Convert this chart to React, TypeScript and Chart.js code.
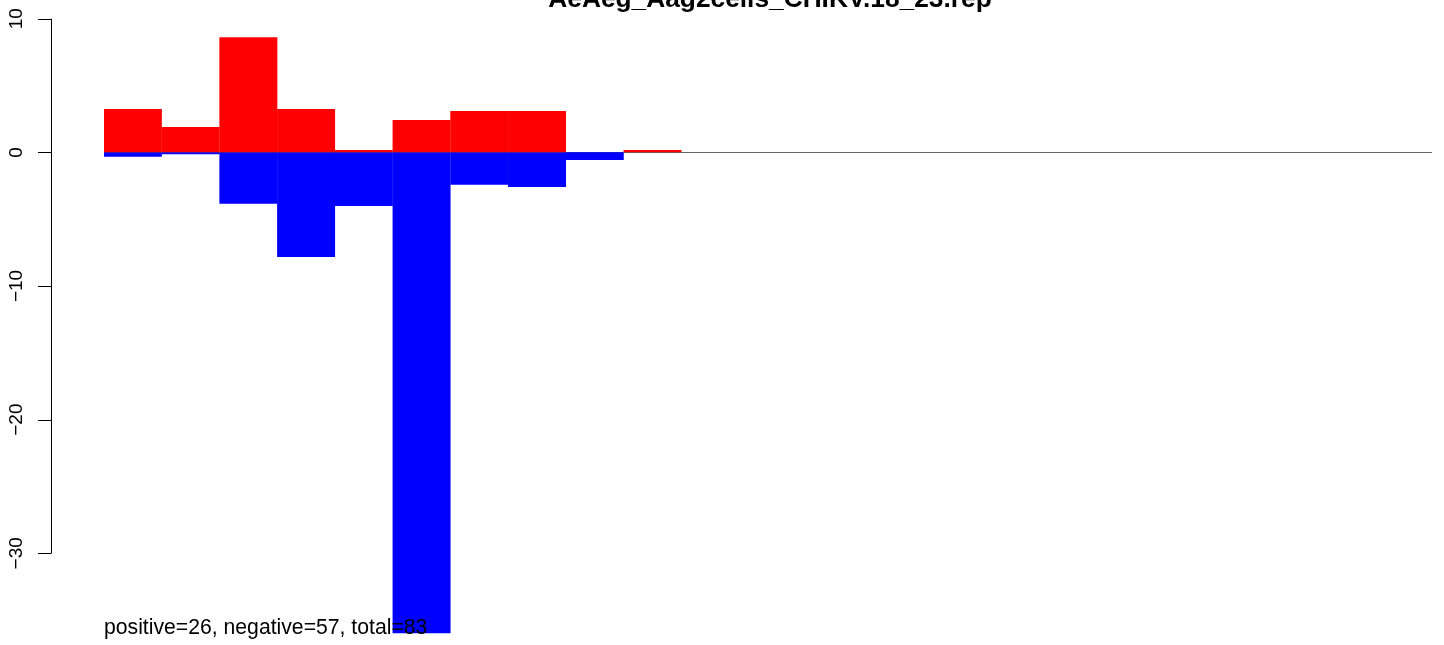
import React, { useEffect, useRef } from "react";
import { Chart, registerables } from "chart.js";

Chart.register(...registerables);

const titleText = "AeAeg_Aag2cells_CHIKV.18_23.rep";
const footerText = "positive=26, negative=57, total=83";

const categories = [
  "1", "2", "3", "4", "5", "6", "7", "8", "9", "10", "11", "12",
  "13", "14", "15", "16", "17", "18", "19", "20", "21", "22", "23",
];
const positiveValues = [
  3.24, 1.89, 8.62, 3.24, 0.17, 2.42, 3.09, 3.09, 0, 0.17, 0, 0,
  0, 0, 0, 0, 0, 0, 0, 0, 0, 0, 0,
];
const negativeValues = [
  -0.33, -0.15, -3.84, -7.83, -4.02, -36, -2.42, -2.6, -0.58, 0, 0, 0,
  0, 0, 0, 0, 0, 0, 0, 0, 0, 0, 0,
];
const yTickValues = [10, 0, -10, -20, -30];
const yTickLabels = ["10", "0", "\u221210", "\u221220", "\u221230"];

const FONT = '"Liberation Sans", Arial, Helvetica, sans-serif';

const rStylePlugin = {
  id: "rStyle",
  beforeDatasetsDraw(chart: any) {
    const { ctx } = chart;
    const x = chart.scales.x;
    const y = chart.scales.y;
    const y0 = y.getPixelForValue(0);
    ctx.save();
    ctx.strokeStyle = "#666666";
    ctx.lineWidth = 1;
    ctx.beginPath();
    ctx.moveTo(x.left, Math.round(y0) + 0.5);
    ctx.lineTo(x.right, Math.round(y0) + 0.5);
    ctx.stroke();
    ctx.restore();
  },
  afterDatasetsDraw(chart: any) {
    const { ctx } = chart;
    const x = chart.scales.x;
    const y = chart.scales.y;
    const n = categories.length;
    // R-style axis position: 4% extension of the bar range to the left
    const axisX = Math.round(x.getPixelForValue(-0.5 - 0.04 * n)) + 0.5;
    ctx.save();
    ctx.strokeStyle = "#000000";
    ctx.lineWidth = 1;
    ctx.beginPath();
    const topY = y.getPixelForValue(yTickValues[0]);
    const botY = y.getPixelForValue(yTickValues[yTickValues.length - 1]);
    ctx.moveTo(axisX, topY);
    ctx.lineTo(axisX, botY);
    yTickValues.forEach((v) => {
      const py = Math.round(y.getPixelForValue(v)) + 0.5;
      ctx.moveTo(axisX, py);
      ctx.lineTo(axisX - 13.5, py);
    });
    ctx.stroke();

    ctx.fillStyle = "#000000";
    ctx.font = `19px ${FONT}`;
    ctx.textAlign = "center";
    ctx.textBaseline = "alphabetic";
    yTickValues.forEach((v, i) => {
      const py = y.getPixelForValue(v);
      ctx.save();
      ctx.translate(axisX - 29.5, py);
      ctx.rotate(-Math.PI / 2);
      ctx.fillText(yTickLabels[i], 0, 0);
      ctx.restore();
    });

    // title (clipped at top like reference)
    ctx.font = `bold 26.3px ${FONT}`;
    ctx.textAlign = "center";
    ctx.textBaseline = "alphabetic";
    ctx.fillText(titleText, (x.left + x.right) / 2 + 2, 6.5);

    // footer text
    ctx.font = `21.2px ${FONT}`;
    ctx.textAlign = "left";
    ctx.fillText(footerText, x.left, y.bottom);
    ctx.restore();
  },
};

export default function App() {
  const canvasRef = useRef<HTMLCanvasElement | null>(null);

  useEffect(() => {
    if (!canvasRef.current) return;
    const chart = new Chart(canvasRef.current, {
      type: "bar",
      data: {
        labels: categories,
        datasets: [
          {
            label: "positive",
            data: positiveValues,
            backgroundColor: "#ff0000",
            borderWidth: 0,
            barPercentage: 1.004,
            categoryPercentage: 1,
          },
          {
            label: "negative",
            data: negativeValues,
            backgroundColor: "#0000ff",
            borderWidth: 0,
            barPercentage: 1.004,
            categoryPercentage: 1,
          },
        ],
      },
      options: {
        responsive: false,
        animation: false,
        devicePixelRatio: 1,
        layout: {
          padding: { left: 104, right: 12, top: 18.7, bottom: 11.5 },
        },
        plugins: {
          legend: { display: false },
          tooltip: { enabled: false },
          title: { display: false },
        },
        scales: {
          x: {
            stacked: true,
            display: false,
            grid: { display: false },
          },
          y: {
            stacked: true,
            display: false,
            min: -36,
            max: 10,
            grid: { display: false },
          },
        },
      },
      plugins: [rStylePlugin],
    });
    return () => chart.destroy();
  }, []);

  return (
    <div
      style={{
        position: "absolute",
        left: 0,
        top: 0,
        width: 1444,
        height: 645,
        background: "#ffffff",
      }}
    >
      <canvas ref={canvasRef} width={1444} height={645} />
    </div>
  );
}
